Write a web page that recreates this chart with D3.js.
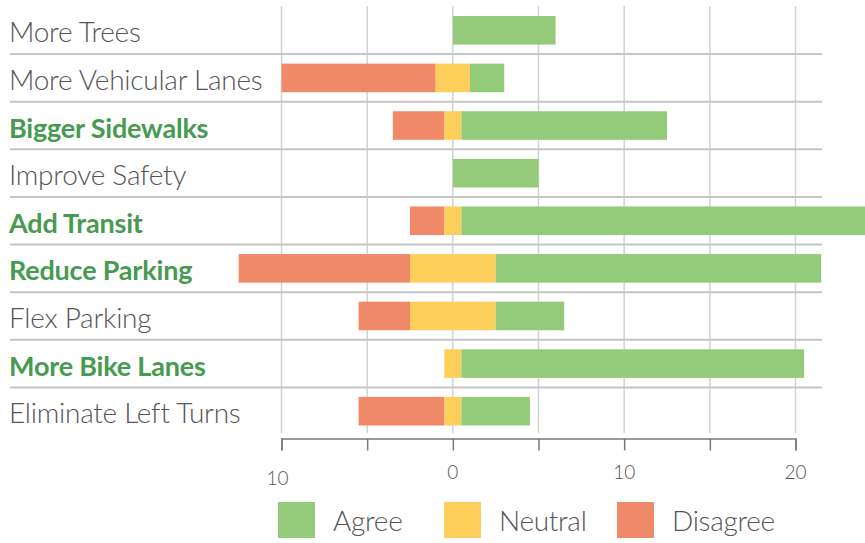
<!DOCTYPE html>
<html>
<head>
<meta charset="utf-8">
<script src="https://cdn.jsdelivr.net/npm/d3@7"></script>
<style>
  html, body { margin: 0; padding: 0; background: #fff; }
  svg { display: block; font-family: Lato, "Open Sans", sans-serif; }
</style>
</head>
<body>
<svg id="chart" width="865" height="543"></svg>
<script>
const categories = [
  'More Trees', 'More Vehicular Lanes', 'Bigger Sidewalks', 'Improve Safety',
  'Add Transit', 'Reduce Parking', 'Flex Parking', 'More Bike Lanes', 'Eliminate Left Turns'
];
const disagree = [0, 9, 3, 0, 2, 10, 3, 0, 5];
const neutral = [0, 2, 1, 0, 1, 5, 5, 1, 1];
const agree = [6, 2, 12, 5, 24, 19, 4, 20, 4];
const highlighted = ['Bigger Sidewalks', 'Add Transit', 'Reduce Parking', 'More Bike Lanes'];
const gridValues = [-10, -5, 0, 5, 10, 15, 20];
const tickLabels = [-10, 0, 10, 20];
const legendLabels = ['Agree', 'Neutral', 'Disagree'];

const colors = { Agree: '#94cb7a', Neutral: '#fdcf5a', Disagree: '#ef8967' };

const svg = d3.select('#chart');

const x = d3.scaleLinear()
  .domain([-10, 20])
  .range([281.5, 795.5]);

const y = d3.scaleBand()
  .domain(categories)
  .range([6.5, 435])
  .paddingInner(0.4)
  .paddingOuter(0.2);

// build stacked segments, neutral split around zero
const rows = categories.map((c, i) => {
  const n0 = -neutral[i] / 2;
  return [
    { cat: c, key: 'Disagree', x0: n0 - disagree[i], x1: n0 },
    { cat: c, key: 'Neutral', x0: n0, x1: n0 + neutral[i] },
    { cat: c, key: 'Agree', x0: n0 + neutral[i], x1: n0 + neutral[i] + agree[i] }
  ].filter(d => d.x1 > d.x0);
});

// vertical grid
svg.append('g')
  .selectAll('line')
  .data(gridValues)
  .enter().append('line')
  .attr('x1', d => x(d)).attr('x2', d => x(d))
  .attr('y1', 6).attr('y2', 433)
  .attr('stroke', '#d2d2d2')
  .attr('stroke-width', 1.5);

// row separators
svg.append('g')
  .selectAll('line')
  .data(categories.slice(1))
  .enter().append('line')
  .attr('x1', 10).attr('x2', 822)
  .attr('y1', d => y(d) - y.step() * y.paddingInner() / 2)
  .attr('y2', d => y(d) - y.step() * y.paddingInner() / 2)
  .attr('stroke', '#c6c6c6')
  .attr('stroke-width', 2);

// bars
svg.append('g')
  .selectAll('rect')
  .data(rows.flat())
  .enter().append('rect')
  .attr('x', d => x(d.x0))
  .attr('y', d => y(d.cat))
  .attr('width', d => x(d.x1) - x(d.x0))
  .attr('height', y.bandwidth())
  .attr('fill', d => colors[d.key]);

// category labels
svg.append('g')
  .selectAll('text')
  .data(categories)
  .enter().append('text')
  .attr('x', 9)
  .attr('y', d => y(d) + y.bandwidth() / 2 + 12)
  .attr('font-size', d => highlighted.includes(d) ? 27 : 28)
  .attr('letter-spacing', d => highlighted.includes(d) ? -0.2 : -0.25)
  .attr('font-weight', d => highlighted.includes(d) ? 700 : 300)
  .attr('fill', d => highlighted.includes(d) ? '#479a50' : '#555557')
  .text(d => d);

// x axis
const axis = svg.append('g')
  .attr('transform', 'translate(0,438.5)')
  .call(d3.axisBottom(x).tickValues(gridValues).tickSize(12).tickFormat(''));
axis.select('.domain').attr('stroke', '#7a7a7a').attr('stroke-width', 1.5);
axis.selectAll('.tick line').attr('stroke', '#7a7a7a').attr('stroke-width', 1.5);

svg.append('g')
  .selectAll('text')
  .data(tickLabels)
  .enter().append('text')
  .attr('x', d => x(d) + (d < 0 ? -4 : 0))
  .attr('y', d => d < 0 ? 485 : 479)
  .attr('text-anchor', 'middle')
  .attr('font-size', 19)
  .attr('font-weight', 300)
  .attr('fill', '#555557')
  .text(d => Math.abs(d));

// legend
const legendX = [278, 444, 617];
const legend = svg.append('g')
  .selectAll('g')
  .data(legendLabels)
  .enter().append('g')
  .attr('transform', (d, i) => `translate(${legendX[i]},502)`);

legend.append('rect')
  .attr('width', 37)
  .attr('height', 36)
  .attr('fill', d => colors[d]);

legend.append('text')
  .attr('x', 55)
  .attr('y', 29)
  .attr('font-size', 28)
  .attr('letter-spacing', -0.3)
  .attr('font-weight', 300)
  .attr('fill', '#555557')
  .text(d => d);
</script>
</body>
</html>
